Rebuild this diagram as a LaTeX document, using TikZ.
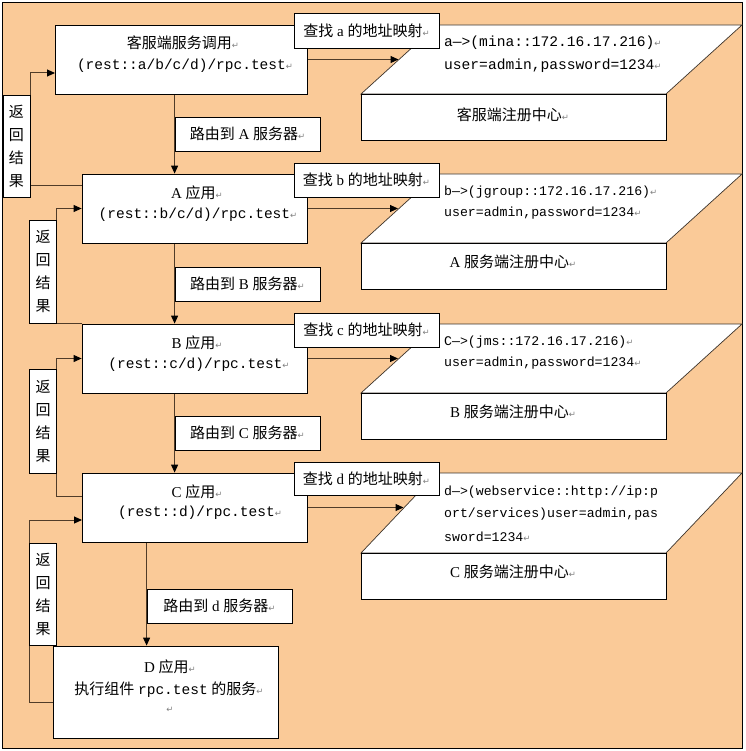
\documentclass[tikz,border=0pt]{standalone}
\usepackage{fontspec}
\setmainfont{Liberation Serif}
\setmonofont{Liberation Mono}
\newfontfamily\cjk{Noto Sans CJK SC}
\newfontfamily\dejavu{DejaVu Sans}
\usetikzlibrary{arrows.meta}
\definecolor{peach}{RGB}{250,202,152}
\definecolor{lnk}{RGB}{80,60,40}
\definecolor{edge}{RGB}{60,50,40}
\newcommand\zh[1]{{\cjk #1}}
\newcommand\pmk{{\dejavu\fontsize{8.5}{8.5}\selectfont\color{gray}↵}}
\pgfdeclarelayer{back}
\pgfdeclarelayer{links}
\pgfsetlayers{back,links,main}
\tikzset{
  box/.style={draw=black, fill=white, line width=0.8pt, inner sep=0pt},
  txt/.style={inner sep=0pt, font=\fontsize{15}{18}\selectfont},
  mono/.style={inner sep=0pt, font=\ttfamily\fontsize{14.5}{17}\selectfont},
  monos/.style={inner sep=0pt, anchor=west, font=\ttfamily\fontsize{13.2}{16}\selectfont},
  monob/.style={inner sep=0pt, anchor=west, font=\ttfamily\fontsize{14.6}{17}\selectfont},
  vlabel/.style={box, minimum width=27pt, align=center, font=\fontsize{15}{23}\selectfont\cjk},
  hlabel/.style={box, minimum width=145pt, font=\fontsize{15}{18}\selectfont},
  link/.style={draw=lnk, line width=1pt, -{Triangle[length=8pt,width=7pt,color=black]}},
  face/.style={draw=edge, fill=white, line width=0.7pt},
}
\begin{document}
\begin{tikzpicture}[x=1pt,y=-1pt]
\useasboundingbox (0,0) rectangle (745,751);
\begin{pgfonlayer}{back}
\fill[white] (0,0) rectangle (745,751);
\draw[fill=peach, line width=1pt] (2.5,2.5) rectangle (742,748);
\end{pgfonlayer}

% registries (cubes)
\path[face] (361,94) -- (666,94) -- (742,25) -- (437,25) -- cycle;
\node[box, minimum width=305pt, minimum height=46pt] (reg0) at (513.5,117) {};
\path[face] (361,243) -- (666,243) -- (742,174) -- (437,174) -- cycle;
\node[box, minimum width=305pt, minimum height=46pt] (regA) at (513.5,266) {};
\path[face] (361,393) -- (666,393) -- (742,324) -- (437,324) -- cycle;
\node[box, minimum width=305pt, minimum height=46pt] (regB) at (513.5,416) {};
\path[face] (361,553) -- (666,553) -- (742,473) -- (437,473) -- cycle;
\node[box, minimum width=305pt, minimum height=46pt] (regC) at (513.5,576) {};

\node[monob] (m0a) at (444,43) {a—>(mina::172.16.17.216)\pmk};
\node[monob] (m0b) at (444,66) {user=admin,password=1234\pmk};
\node[txt] (reg0t) at (513,115) {\zh{客服端注册中心}\pmk};
\node[monos] (mAa) at (444,192) {b—>(jgroup::172.16.17.216)\pmk};
\node[monos] (mAb) at (444,213) {user=admin,password=1234\pmk};
\node[txt] (regAt) at (513,262) {A \zh{服务端注册中心}\pmk};
\node[monos] (mBa) at (444,342) {C—>(jms::172.16.17.216)\pmk};
\node[monos] (mBb) at (444,363) {user=admin,password=1234\pmk};
\node[txt] (regBt) at (513,412) {B \zh{服务端注册中心}\pmk};
\node[monos] (mCa) at (444,492) {d—>(webservice::http://ip:p};
\node[monos] (mCb) at (444,514) {ort/services)user=admin,pas};
\node[monos] (mCc) at (444,537) {sword=1234\pmk};
\node[txt] (regCt) at (513,572) {C \zh{服务端注册中心}\pmk};

% main boxes
\node[box, minimum width=252pt, minimum height=69pt] (client) at (181,59.5) {};
\node[txt] (client1) at (183,43) {\zh{客服端服务调用}\pmk};
\node[mono] (client2) at (185,66) {(rest::a/b/c/d)/rpc.test\pmk};

\node[box, minimum width=225pt, minimum height=69pt] (A) at (194.5,208.5) {};
\node[txt] (A1) at (197,193) {A \zh{应用}\pmk};
\node[mono] (A2) at (198,215) {(rest::b/c/d)/rpc.test\pmk};

\node[box, minimum width=225pt, minimum height=69pt] (B) at (194.5,358.5) {};
\node[txt] (B1) at (197,343) {B \zh{应用}\pmk};
\node[mono] (B2) at (199,365) {(rest::c/d)/rpc.test\pmk};

\node[box, minimum width=225pt, minimum height=69pt] (C) at (194.5,507.5) {};
\node[txt] (C1) at (197,492) {C \zh{应用}\pmk};
\node[mono] (C2) at (200,513) {(rest::d)/rpc.test\pmk};

\node[box, minimum width=225pt, minimum height=92pt] (D) at (165.5,692) {};
\node[txt] (D1) at (170,667) {D \zh{应用}\pmk};
\node[txt] (D2) at (169,690) {\zh{执行组件} {\ttfamily\fontsize{14.5}{17}\selectfont rpc.test} \zh{的服务}\pmk};
\node[txt] (D3) at (170,710) {\pmk};

% label boxes
\node[hlabel, minimum height=34pt] (rA) at (247.5,134) {\zh{路由到} A \zh{服务器}\pmk};
\node[hlabel, minimum height=34pt] (rB) at (247.5,284) {\zh{路由到} B \zh{服务器}\pmk};
\node[hlabel, minimum height=34pt] (rC) at (247.5,433) {\zh{路由到} C \zh{服务器}\pmk};
\node[hlabel, minimum height=34pt] (rd) at (219.5,606) {\zh{路由到} d \zh{服务器}\pmk};

\node[vlabel, minimum height=102pt] (f1) at (16.5,146) {返\\回\\结\\果};
\node[vlabel, minimum height=103pt] (f2) at (43,271.5) {返\\回\\结\\果};
\node[vlabel, minimum height=104pt] (f3) at (43,421) {返\\回\\结\\果};
\node[vlabel, minimum height=102pt] (f4) at (43,594) {返\\回\\结\\果};

\node[hlabel, minimum height=35pt] (La) at (366.5,30.5) {\zh{查找} a \zh{的地址映射}\pmk};
\node[hlabel, minimum height=34pt] (Lb) at (366.5,180) {\zh{查找} b \zh{的地址映射}\pmk};
\node[hlabel, minimum height=34pt] (Lc) at (366.5,330) {\zh{查找} c \zh{的地址映射}\pmk};
\node[hlabel, minimum height=33pt] (Ld) at (366.5,478.5) {\zh{查找} d \zh{的地址映射}\pmk};

% connectors (on a layer below the boxes)
\begin{pgfonlayer}{links}
\coordinate (h0) at (398.5,59.5);
\coordinate (hA) at (398,208.5);
\coordinate (hB) at (398,358.5);
\coordinate (hC) at (403.5,507.5);
\draw[link] (client.east) -- (h0);
\draw[link] (A.east) -- (hA);
\draw[link] (B.east) -- (hB);
\draw[link] (C.east) -- (hC);

\draw[link] (client.south -| rA.west) -- (A.north -| rA.west);
\draw[link] (A.south -| rB.west) -- (B.north -| rB.west);
\draw[link] (B.south -| rC.west) -- (C.north -| rC.west);
\draw[link] (C.south -| rd.west) -- (D.north -| rd.west);

\coordinate (r1s) at (82,186);
\coordinate (r1e) at (55,73);
\draw[link] (r1s) -- (r1s -| f1.east) |- (r1e);
\coordinate (r2s) at (82,323.5);
\draw[link] (r2s) -- (r2s -| f2.east) |- (A.west);
\coordinate (r3s) at (82,496);
\draw[link] (r3s) -- (r3s -| f3.east) |- (B.west);
\coordinate (r4s) at (53,702);
\coordinate (r4e) at (82,520);
\draw[link] (r4s) -- (r4s -| f4.west) |- (r4e);
\end{pgfonlayer}
\end{tikzpicture}
\end{document}
